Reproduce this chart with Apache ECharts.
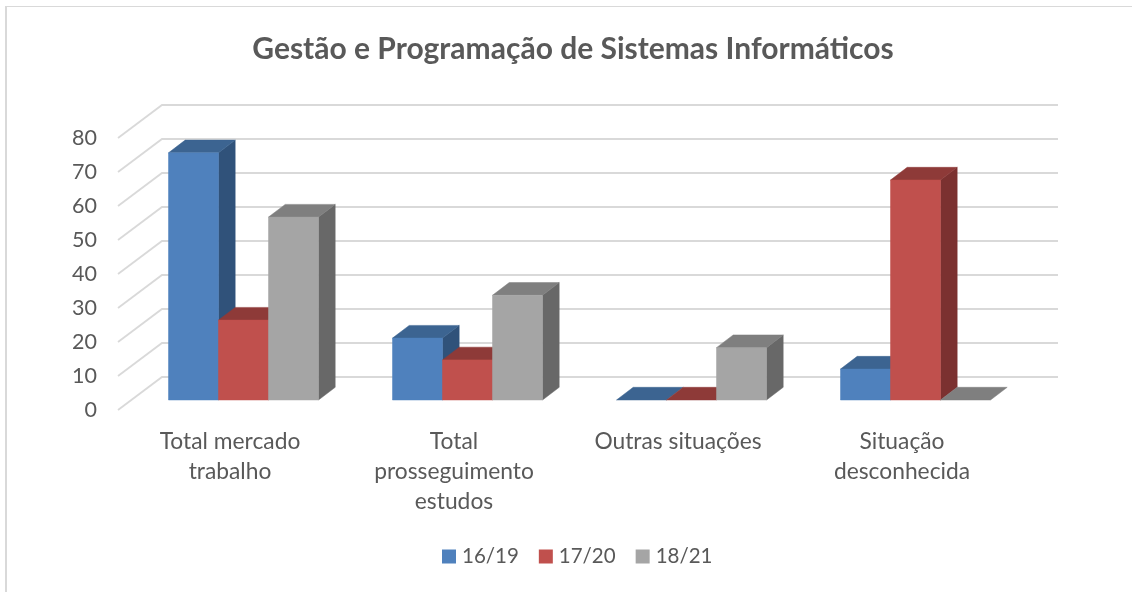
<!DOCTYPE html>
<html><head><meta charset="utf-8">
<style>html,body{margin:0;padding:0;background:#fff}#c{width:1132px;height:592px}</style>
<script src="https://cdn.jsdelivr.net/npm/echarts@6/dist/echarts.min.js"></script>
</head><body><div id="c"></div>
<script>
const titleText = 'Gestão e Programação de Sistemas Informáticos';
const categories = ['Total mercado\ntrabalho', 'Total\nprosseguimento\nestudos', 'Outras situações', 'Situação\ndesconhecida'];
const seriesNames = ['16/19', '17/20', '18/21'];
const values1619 = [72.7, 18.2, 0, 9.1];
const values1720 = [23.5, 11.8, 0, 64.7];
const values1821 = [53.8, 30.8, 15.4, 0];
const yTicks = [0, 10, 20, 30, 40, 50, 60, 70, 80];
const faceColors = [
  {front: '#4F81BD', top: '#3C6491', side: '#30527A'},
  {front: '#C0504D', top: '#8E3A38', side: '#7B3130'},
  {front: '#A5A5A5', top: '#7F7F7F', side: '#686868'}
];
const font = 'Lato';
const textColor = '#595959';
const wallDx = 44, wallDy = 33;      // depth of the floor
const barLift = 10, barShift = 13.5; // bars stand inside the floor depth
const barDx = 16.7, barDy = 12.7;    // depth of a bar

function poly(points, fill) {
  return {type: 'polygon', shape: {points}, style: {fill, stroke: fill, lineWidth: 0.5}};
}
function barSeries(idx, name, vals) {
  const c = faceColors[idx];
  return {
    type: 'custom', name, coordinateSystem: 'cartesian2d', clip: false, z: 3 + idx,
    itemStyle: {color: c.front},
    encode: {x: 0, y: 1},
    data: vals.map((v, i) => [i, v]),
    renderItem(params, api) {
      const cat = api.value(0), v = api.value(1);
      const topPt = api.coord([cat, v]), basePt = api.coord([cat, 0]);
      const w = api.size([1, 0])[0] / 4.48;
      const x0 = topPt[0] + barShift + (idx - 1.5) * w, x1 = x0 + w;
      const yT = topPt[1] - barLift, yB = basePt[1] - barLift;
      const children = [];
      if (yB - yT > 0.5) {
        children.push(poly([[x1, yT], [x1 + barDx, yT - barDy], [x1 + barDx, yB - barDy], [x1, yB]], c.side));
      }
      children.push(poly([[x0, yT], [x0 + barDx, yT - barDy], [x1 + barDx, yT - barDy], [x1, yT]], c.top));
      if (yB - yT > 0.5) {
        children.push({type: 'rect', shape: {x: x0, y: yT, width: w, height: yB - yT},
          style: {fill: c.front, stroke: c.front, lineWidth: 0.5}});
      }
      return {type: 'group', children};
    }
  };
}
const wallSeries = {
  type: 'custom', coordinateSystem: 'cartesian2d', clip: false, z: 1, silent: true,
  encode: {x: 0, y: 1}, legendHoverLink: false,
  data: yTicks.map(t => [0, t]),
  renderItem(params, api) {
    const g = params.coordSys;
    const y = api.coord([0, api.value(1)])[1];
    return {type: 'polyline',
      shape: {points: [[g.x, y], [g.x + wallDx, y - wallDy], [g.x + g.width + wallDx, y - wallDy]]},
      style: {fill: 'none', stroke: '#D9D9D9', lineWidth: 1.8}};
  }
};
const chart = echarts.init(document.getElementById('c'), null, {renderer: 'canvas'});
chart.setOption({
  animation: false,
  backgroundColor: '#fff',
  title: {text: titleText, left: 568, textAlign: 'center', top: 29,
    textStyle: {fontFamily: font, fontSize: 30, fontWeight: 'bold', color: textColor}},
  legend: {
    data: seriesNames, left: 437, top: 541, icon: 'rect', itemWidth: 14, itemHeight: 14, itemGap: 20,
    textStyle: {fontFamily: font, fontSize: 20.5, color: textColor, padding: [0, 0, 0, 1]}
  },
  grid: {left: 118, right: 118, top: 138, bottom: 182},
  xAxis: {type: 'category', data: categories,
    axisLine: {show: false}, axisTick: {show: false}, splitLine: {show: false},
    axisLabel: {fontFamily: font, fontSize: 22.8, color: textColor, margin: 17, lineHeight: 30, interval: 0}},
  yAxis: {type: 'value', min: 0, max: 80, interval: 10,
    axisLine: {show: false}, axisTick: {show: false}, splitLine: {show: false},
    axisLabel: {fontFamily: font, fontSize: 21.5, color: textColor, margin: 21}},
  graphic: [
    {type: 'rect', shape: {x: 5, y: 6, width: 1127, height: 1}, style: {fill: '#D9D9D9'}},
    {type: 'rect', shape: {x: 5, y: 6, width: 2, height: 586}, style: {fill: '#D9D9D9'}}
  ],
  series: [wallSeries, barSeries(0, seriesNames[0], values1619), barSeries(1, seriesNames[1], values1720), barSeries(2, seriesNames[2], values1821)]
});
</script></body></html>
